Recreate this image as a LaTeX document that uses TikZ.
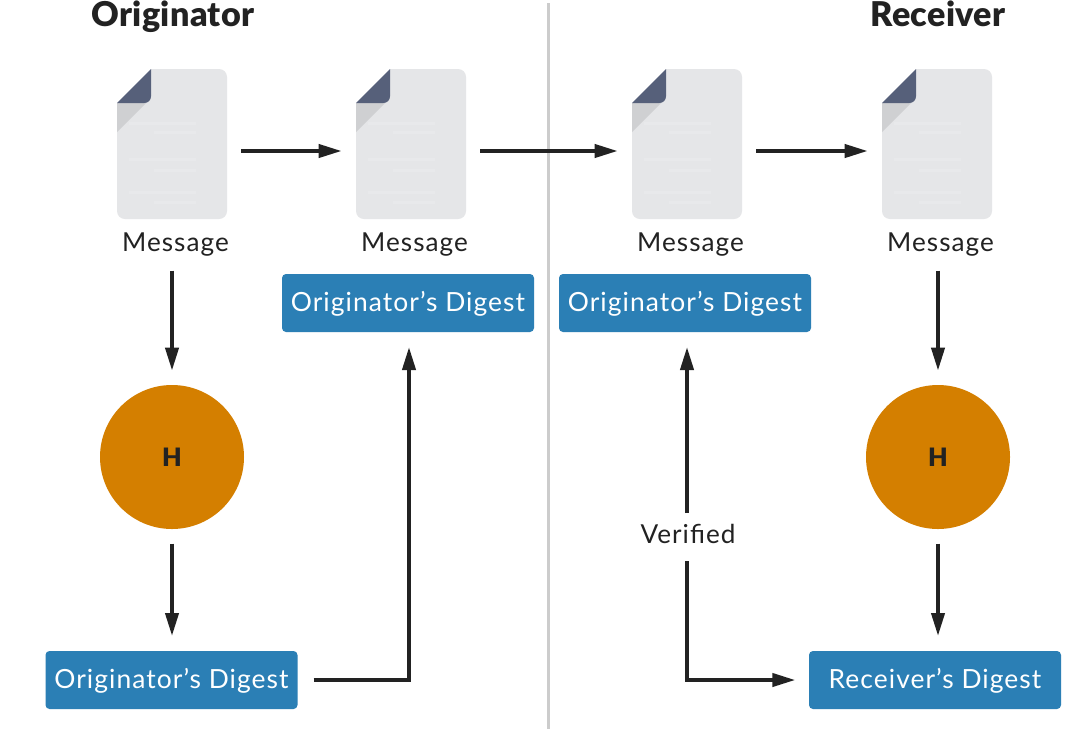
\documentclass[tikz,border=0pt]{standalone}
\usepackage{fontspec}
\setmainfont{Lato}
\newfontfamily\lbl[LetterSpace=4]{Lato}
\newfontfamily\ttl[LetterSpace=1]{Lato Black}
\usetikzlibrary{arrows.meta}
\definecolor{docbody}{HTML}{E5E6E8}
\definecolor{docline}{HTML}{E8E9EB}
\definecolor{docfold}{HTML}{56607A}
\definecolor{docshade}{HTML}{CFD0D2}
\definecolor{hashc}{HTML}{D47F00}
\definecolor{boxc}{HTML}{2B7FB5}
\definecolor{ink}{HTML}{222222}
\tikzset{
  x=0.75pt,y=-0.75pt,
  docbox/.style={minimum width=82.5pt,minimum height=112.5pt,inner sep=0pt,outer sep=0pt},
  msg/.style={font=\lbl\fontsize{19.6}{22}\selectfont,text=ink,inner sep=0pt,anchor=base},
  dig/.style={fill=boxc,rounded corners=3pt,minimum height=43.5pt,inner sep=0pt,outer sep=0pt,text=white,text height=16pt,text depth=4pt,font=\lbl\fontsize{19.8}{22}\selectfont},
  hash/.style={circle,fill=hashc,minimum size=108pt,inner sep=0pt,outer sep=0pt,text=ink,font=\fontspec{Lato Black}\fontsize{19}{22}\selectfont},
  title/.style={font=\ttl\fontsize{25.6}{28}\selectfont,text=ink,inner sep=0pt,anchor=base},
  conn/.style={draw=ink,line width=2.3pt,-{Triangle[length=17pt,width=10pt]}},
}
\newcommand{\docicon}[2]{%
  \node[docbox] (#1) at (#2+55,144) {};
  \begin{scope}[shift={(#2,69)}]
    \fill[docbody] (34,0) [rounded corners=6pt] -- (110,0) -- (110,150) -- (0,150) [sharp corners] -- (0,34) -- cycle;
    \foreach \a/\b/\c in {12/79/53,37/79/62,12/79/89,37/79/100,12/79/122,37/79/132}
      \fill[docline] (\a,\c) rectangle (\b,\c+3);
    \fill[docshade] (0,34) -- (29,34) -- (0,63) -- cycle;
    \fill[docfold] (0,34) [rounded corners=5pt] -- (34,34) [sharp corners] -- (34,0) -- cycle;
  \end{scope}}
\begin{document}
\begin{tikzpicture}
\useasboundingbox (0,0) rectangle (1080,729);
\fill[white] (0,0) rectangle (1080,729);
\draw[draw=black!20,line width=1.6pt] (548.5,3) -- (548.5,729);

\node[title] (t1) at (173,26) {Originator};
\node[title] (t2) at (938,26) {Receiver};

\docicon{d1}{117}
\docicon{d2}{356}
\docicon{d3}{632}
\docicon{d4}{882}

\node[msg] (m1) at (175.5,251) {Message};
\node[msg] (m2) at (414.5,251) {Message};
\node[msg] (m3) at (690.5,251) {Message};
\node[msg] (m4) at (940.5,251) {Message};

\node[dig,minimum width=189pt] (b2) at (408,303) {Originator’s Digest};
\node[dig,minimum width=189pt] (b3) at (685,303) {Originator’s Digest};
\node[dig,minimum width=189pt] (b1) at (171.5,680) {Originator’s Digest};
\node[dig,minimum width=189pt] (b4) at (935,680) {Receiver’s Digest};

\node[hash] (h1) at (172,457) {H};
\node[hash] (h2) at (938,457) {H};

\node[msg] (v) at (688,543) {Verified};

\coordinate (c1) at (409,680);
\coordinate (c2) at (687,680);
\coordinate (m1b) at (172,256);
\coordinate (m4b) at (938,256);

\draw[conn,shorten <=10.5pt,shorten >=11pt] (d1.east |- 0,151) -- (d2.west |- 0,151);
\draw[conn,shorten <=10.5pt,shorten >=11pt] (d2.east |- 0,151) -- (d3.west |- 0,151);
\draw[conn,shorten <=10.5pt,shorten >=11pt] (d3.east |- 0,151) -- (d4.west |- 0,151);

\draw[conn,shorten <=11pt,shorten >=11pt] (m1b) -- (h1.north);
\draw[conn,shorten <=11pt,shorten >=11pt] (m4b) -- (h2.north);
\draw[conn,shorten <=11pt,shorten >=11.5pt] (h1.south) -- (h1.south |- b1.north);
\draw[conn,shorten <=11pt,shorten >=11.5pt] (h2.south) -- (h2.south |- b4.north);

\draw[conn,shorten <=12pt,shorten >=11.5pt] (b1.east) -- (c1) -- (c1 |- b2.south);
\draw[conn,shorten >=11.5pt] (c2 |- 0,513) -- (c2 |- b3.south);
\draw[conn,shorten >=10.5pt] (c2 |- 0,561) -- (c2) -- (b4.west);
\end{tikzpicture}
\end{document}
